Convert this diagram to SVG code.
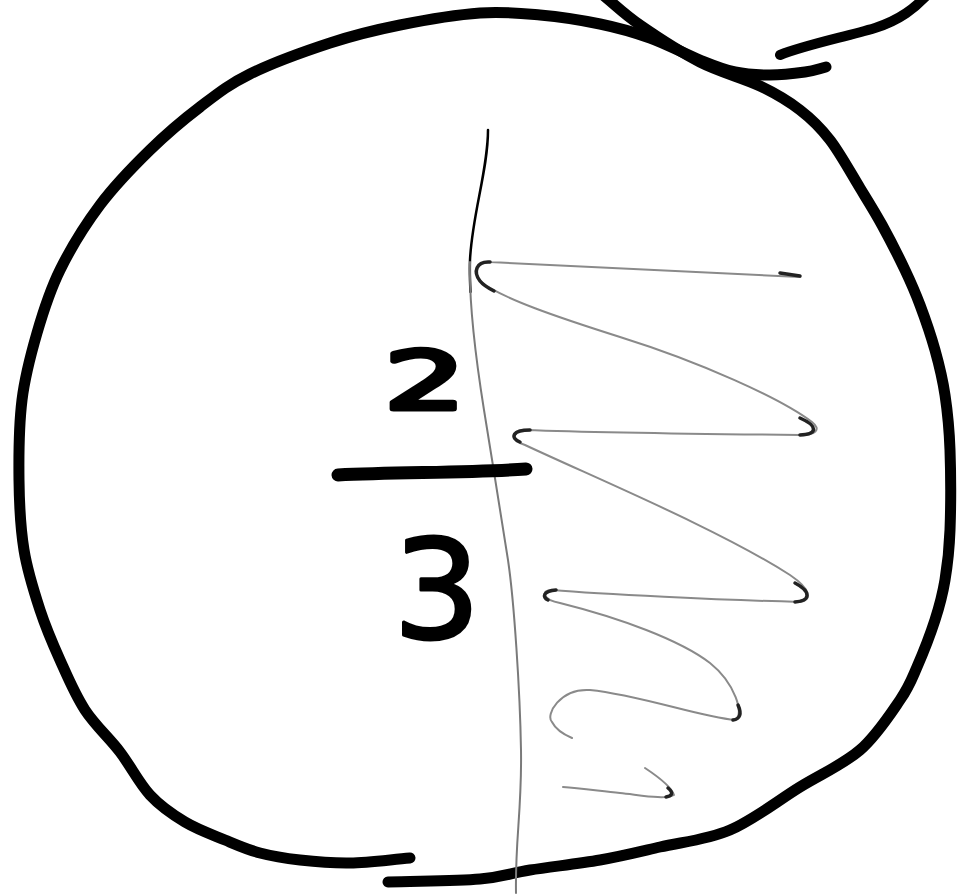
<svg xmlns="http://www.w3.org/2000/svg" width="959" height="895" viewBox="0 0 959 895">
<style>
.ink{fill:none;stroke:#000;stroke-width:11;stroke-linecap:round;stroke-linejoin:round}
.pencil{fill:none;stroke:#8a8a8a;stroke-width:2;stroke-linecap:round;stroke-linejoin:round}
.tip{fill:none;stroke:#222;stroke-width:3.5;stroke-linecap:round}
.digit{font-family:"DejaVu Sans","Liberation Sans",sans-serif;fill:#000;stroke:#000;stroke-linejoin:round}
</style>
<rect width="959" height="895" fill="#fff"/>
<g id="circle">
<path class="ink" d="M826,67 C819,68.7 814.3,70.7 805,72 C795.7,73.3 781.7,75 770,75 C758.3,75 746.7,74.5 735,72 C723.3,69.5 714.2,65.7 700,60 C685.8,54.3 666.7,44 650,38 C633.3,32 618.3,27.8 600,24 C581.7,20.2 560,16.8 540,15 C520,13.2 503.3,11.3 480,13 C456.7,14.7 425,20 400,25 C375,30 355,34.8 330,43 C305,51.2 271.7,63.3 250,74 C228.3,84.7 216.7,94.3 200,107 C183.3,119.7 166.7,133.7 150,150 C133.3,166.3 115,185 100,205 C85,225 70.5,248.7 60,270 C49.5,291.3 43.3,311.3 37,333 C30.7,354.7 25,375.5 22,400 C19,424.5 18.7,455 19,480 C19.3,505 20.5,528.3 24,550 C27.5,571.7 34,591.7 40,610 C46,628.3 52.5,643.3 60,660 C67.5,676.7 75,694.7 85,710 C95,725.3 109.2,737.8 120,752 C130.8,766.2 139.2,783.3 150,795 C160.8,806.7 172.5,814.5 185,822 C197.5,829.5 212.5,834.8 225,840 C237.5,845.2 247.5,849.7 260,853 C272.5,856.3 285,858.3 300,860 C315,861.7 331.7,863.3 350,863 C368.3,862.7 390,859.7 410,858"/>
<path class="ink" d="M603,-5 C615.3,5 623.8,13.8 640,25 C656.2,36.2 680,51.8 700,62 C720,72.2 743.3,78 760,86 C776.7,94 788.3,101 800,110 C811.7,119 820,127 830,140 C840,153 851.3,173.8 860,188 C868.7,202.2 874.5,211.3 882,225 C889.5,238.7 898.7,256.7 905,270 C911.3,283.3 915,291.7 920,305 C925,318.3 930.8,335 935,350 C939.2,365 942.5,378.3 945,395 C947.5,411.7 949.2,427.5 950,450 C950.8,472.5 950.8,508.3 950,530 C949.2,551.7 947.5,565 945,580 C942.5,595 939.7,605.5 935,620 C930.3,634.5 922.8,653.7 917,667 C911.2,680.3 909.5,686.2 900,700 C890.5,713.8 876.7,735.5 860,750 C843.3,764.5 821.7,773.7 800,787 C778.3,800.3 753.3,820 730,830 C706.7,840 681.7,842 660,847 C638.3,852 621.7,856.2 600,860 C578.3,863.8 550,866.8 530,870 C510,873.2 503.7,877 480,879 C456.3,881 418.7,881 388,882"/>
<path class="ink" style="stroke-width:10" d="M928,-6 C915,8 900,20 875,28 C845,37 805,45 780,55"/>
</g>
<g id="divider">
<path fill="none" stroke="#000" stroke-width="2.5" stroke-linecap="round" d="M488,130 C488,170 472,215 470,260 C469.5,272 470,282 470.5,292"/>
<path fill="none" stroke="#7a7a7a" stroke-width="2" stroke-linecap="round" d="M470,262 C469,300 476,360 484,410 C492,460 502,520 508,560 C514,600 520,690 521,750 C522,810 515,840 516,893"/>
</g>
<g id="shading">
<path class="pencil" d="M800,277 C700,272 560,266 490,262 C476,261 473,272 480,281 C500,298 560,318 620,337 C700,362 780,398 812,422 C822,430 815,435 800,435 C700,434 580,432 525,430 C510,430 510,440 525,445 C600,480 720,530 790,575 C812,590 812,600 800,602 C720,600 600,594 552,590 C540,590 543,600 560,603 C620,618 680,640 710,663 C735,683 745,715 735,720 C700,717 640,695 590,690 C560,688 545,715 552,722 C556,730 565,735 572,738"/>
<path class="pencil" d="M645,768 C660,778 672,788 674,795 C665,800 640,795 620,793 C600,791 580,788 563,787"/>
<path class="tip" d="M490,262 C476,261 473,272 480,281 C484,286 490,289 494,291"/>
<path class="tip" d="M780,273 L800,276"/>
<path class="tip" d="M800,418 C818,426 818,434 800,435"/>
<path class="tip" d="M530,430 C512,430 510,438 520,442"/>
<path class="tip" d="M795,583 C812,592 810,601 795,602"/>
<path class="tip" d="M556,590 C543,591 542,597 548,600"/>
<path class="tip" d="M738,705 C742,714 740,719 733,720"/>
<path class="tip" d="M668,788 C674,793 672,796 666,797"/>
</g>
<g id="fraction">
<text class="digit" transform="translate(425,409) scale(1.6,1)" x="0" y="0" text-anchor="middle" font-size="80" stroke-width="5">2</text>
<path class="ink" style="stroke-width:13" d="M338,475 C400,472 470,473 526,469"/>
<text class="digit" x="437" y="638" text-anchor="middle" font-size="138" stroke-width="3">3</text>
</g>
</svg>
